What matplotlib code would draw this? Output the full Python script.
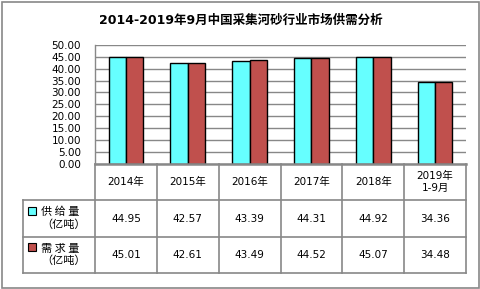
import matplotlib
matplotlib.use("Agg")
import matplotlib.pyplot as plt
from matplotlib.patches import Rectangle
from matplotlib.lines import Line2D

plt.rcParams['font.family'] = ['DejaVu Sans', 'Noto Sans CJK SC']

title = "2014-2019年9月中国采集河砂行业市场供需分析"
categories = ["2014年", "2015年", "2016年", "2017年", "2018年", "2019年\n1-9月"]
supply = [44.95, 42.57, 43.39, 44.31, 44.92, 34.36]
demand = [45.01, 42.61, 43.49, 44.52, 45.07, 34.48]
series_labels = ["供 给 量\n（亿吨）", "需 求 量\n（亿吨）"]
yticks = [0, 5, 10, 15, 20, 25, 30, 35, 40, 45, 50]

c_supply = "#66FFFF"
c_demand = "#C0504D"
grid_c = "#888888"

W, H = 481, 289
fig = plt.figure(figsize=(W / 100, H / 100), dpi=100)

def fx(px):
    return px / W

def fy(py):
    return 1 - py / H

# outer border
fig.patches.append(Rectangle((fx(1.5), fy(287.5)), fx(478), (286) / H,
                             transform=fig.transFigure, fill=False,
                             edgecolor=grid_c, lw=1.2))

fig.text(0.5, fy(20), title, ha="center", va="center", fontsize=9,
         fontweight="bold", family=['DejaVu Sans', 'Noto Sans CJK SC'])

x_left, x_right = 95, 466
y_top, y_zero = 45, 163.5
ax = fig.add_axes([fx(x_left), fy(y_zero), fx(x_right - x_left), (y_zero - y_top) / H])
n = len(categories)
xs = list(range(n))
bw = 0.28
ax.bar([x - bw / 2 for x in xs], supply, width=bw, color=c_supply, edgecolor="black", lw=1, zorder=3)
ax.bar([x + bw / 2 for x in xs], demand, width=bw, color=c_demand, edgecolor="black", lw=1, zorder=3)
ax.set_xlim(-0.5, n - 0.5)
ax.set_ylim(0, 50)
ax.set_yticks(yticks)
ax.set_yticklabels([f"{v:.2f}" for v in yticks], fontsize=7.5)
ax.tick_params(axis="y", length=0, pad=10)
ax.set_xticks([])
ax.grid(axis="y", color=grid_c, lw=1, zorder=0)
for s in ["top", "right", "bottom"]:
    ax.spines[s].set_visible(False)
ax.spines["left"].set_color(grid_c)
ax.spines["left"].set_linewidth(1)

# table
t_top, t_bot = 164, 273
tab = fig.add_axes([fx(x_left), fy(t_bot), fx(x_right - x_left), (t_bot - t_top) / H])
tab.set_xlim(-0.5, n - 0.5)
tab.set_ylim(0, 3)
tab.axis("off")
label_left = -0.5 - (x_left - 23) / ((x_right - x_left) / n)

def line(xa, ya, lw=1.2):
    tab.add_line(Line2D(xa, ya, color=grid_c, lw=lw, clip_on=False))

line([-0.5, n - 0.5], [3, 3], lw=1.8)
line([label_left, n - 0.5], [2, 2])
line([label_left, n - 0.5], [1, 1])
line([label_left, n - 0.5], [0, 0])
line([label_left, label_left], [0, 2])
for i in range(n + 1):
    line([i - 0.5, i - 0.5], [0, 3])

for i, c in enumerate(categories):
    tab.text(i, 2.5, c, ha="center", va="center", fontsize=7.5, linespacing=1.3)
    tab.text(i, 1.5, f"{supply[i]:.2f}", ha="center", va="center", fontsize=7.5)
    tab.text(i, 0.5, f"{demand[i]:.2f}", ha="center", va="center", fontsize=7.5)

unit = (x_right - x_left) / n  # px per category
for row, (lab, col) in enumerate(zip(series_labels, [c_supply, c_demand])):
    yc = 1.5 - row
    sq_w = 8 / unit
    sq_h = 8 / ((t_bot - t_top) / 3)
    tab.add_patch(Rectangle((label_left + 5 / unit, yc + 0.22 - sq_h / 2), sq_w, sq_h,
                            facecolor=col, edgecolor="black", lw=0.8, clip_on=False))
    tab.text(label_left + 18 / unit, yc, lab, ha="left", va="center", fontsize=8,
             linespacing=1.25, clip_on=False, family=['Noto Sans CJK SC'])

fig.savefig("out.png", dpi=100)
